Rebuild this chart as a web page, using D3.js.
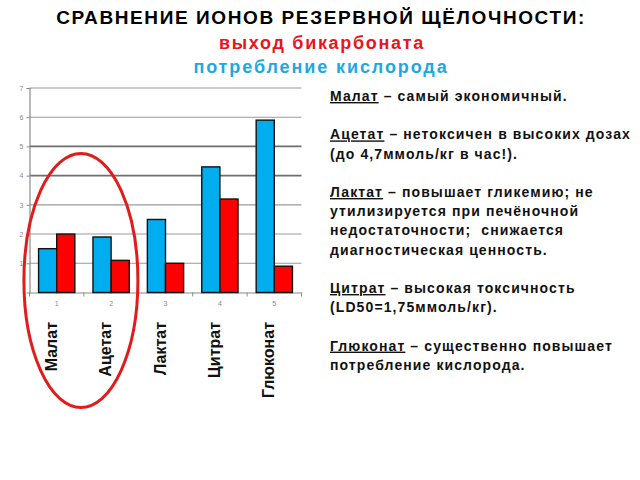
<!DOCTYPE html>
<html><head><meta charset="utf-8">
<script src="https://cdn.jsdelivr.net/npm/d3@7"></script>
<style>
body{margin:0;background:#fff;}
svg{display:block;font-family:"Liberation Sans",Arial,sans-serif;}
</style></head>
<body>
<svg id="c" width="640" height="480"></svg>
<script>
const categories = [1, 2, 3, 4, 5];
const names = ["Малат", "Ацетат", "Лактат", "Цитрат", "Глюконат"];
const oxygen = [1.5, 1.9, 2.5, 4.3, 5.9];      // потребление кислорода (blue)
const bicarbonate = [2.0, 1.1, 1.0, 3.2, 0.9]; // выход бикарбоната (red)
const yTicks = [1, 2, 3, 4, 5, 6, 7];
const titleLines = ["СРАВНЕНИЕ ИОНОВ РЕЗЕРВНОЙ ЩЁЛОЧНОСТИ:", "выход бикарбоната", "потребление кислорода"];
const notes = [
  [["Малат", " – самый экономичный."]],
  [["Ацетат", " – нетоксичен в высоких дозах"], ["", "(до 4,7ммоль/кг в час!)."]],
  [["Лактат", " – повышает гликемию; не"], ["", "утилизируется при печёночной"], ["", "недостаточности;  снижается"], ["", "диагностическая ценность."]],
  [["Цитрат", " – высокая токсичность"], ["", "(LD50=1,75ммоль/кг)."]],
  [["Глюконат", " – существенно повышает"], ["", "потребление кислорода."]]
];

const svg = d3.select("#c");
const BLUE = "#00aeef", RED = "#ff0000";

// titles
svg.append("text").attr("x", 321).attr("y", 24).attr("text-anchor", "middle")
  .attr("font-size", 19).attr("font-weight", "bold").attr("letter-spacing", 1.6).attr("fill", "#000").text(titleLines[0]);
svg.append("text").attr("x", 322).attr("y", 49).attr("text-anchor", "middle")
  .attr("font-size", 18).attr("font-weight", "bold").attr("letter-spacing", 1.7).attr("fill", "#e8151b").text(titleLines[1]);
svg.append("text").attr("x", 321).attr("y", 73).attr("text-anchor", "middle")
  .attr("font-size", 18).attr("font-weight", "bold").attr("letter-spacing", 1.9).attr("fill", "#1ea7e1").text(titleLines[2]);

// scales
const x = d3.scaleBand().domain(categories).range([29.5, 301.5]).paddingInner(0).paddingOuter(0);
const xs = d3.scaleBand().domain(["o", "b"]).range([0, x.bandwidth()]).paddingOuter(0.5).paddingInner(0);
const y = d3.scaleLinear().domain([0, 7]).range([292.5, 88]);

// grid
svg.append("g").selectAll("line").data(yTicks).join("line")
  .attr("x1", 29.5).attr("x2", 301.5)
  .attr("y1", d => y(d)).attr("y2", d => y(d))
  .attr("stroke", d => (d === 4 || d === 5) ? "#6e6e6e" : "#9a9a9a")
  .attr("stroke-width", d => (d === 4 || d === 5) ? 1.8 : 1.1);

// y axis
const ya = svg.append("g").attr("transform", "translate(29.5,0)")
  .call(d3.axisLeft(y).tickValues(yTicks).tickFormat(d3.format("d")).tickSize(3).tickPadding(3));
ya.select(".domain").attr("stroke", "#8a8a8a").attr("stroke-width", 1.2);
ya.selectAll(".tick line").attr("stroke", "#8a8a8a");
ya.selectAll(".tick text").attr("fill", "#8a8a8a").attr("font-size", 7).attr("font-family", "Liberation Sans, Arial");

// x axis
const xa = svg.append("g").attr("transform", `translate(0,${y(0)})`)
  .call(d3.axisBottom(x).tickSize(0).tickPadding(9));
xa.select(".domain").attr("stroke", "#8a8a8a").attr("stroke-width", 1.2);
xa.selectAll(".tick text").attr("fill", "#8a8a8a").attr("font-size", 7).attr("font-family", "Liberation Sans, Arial");
// boundary ticks
svg.append("g").selectAll("line").data(categories.concat([6])).join("line")
  .attr("x1", (d, i) => i < 5 ? x(d) : x(5) + x.bandwidth())
  .attr("x2", (d, i) => i < 5 ? x(d) : x(5) + x.bandwidth())
  .attr("y1", y(0)).attr("y2", y(0) + 4).attr("stroke", "#8a8a8a").attr("stroke-width", 1);

// bars
const bars = svg.append("g");
bars.selectAll("rect.o").data(categories).join("rect").attr("class", "o")
  .attr("x", (d) => x(d) + xs("o")).attr("width", xs.bandwidth())
  .attr("y", (d, i) => y(oxygen[i])).attr("height", (d, i) => y(0) - y(oxygen[i]))
  .attr("fill", BLUE).attr("stroke", "#111").attr("stroke-width", 1.4);
bars.selectAll("rect.b").data(categories).join("rect").attr("class", "b")
  .attr("x", (d) => x(d) + xs("b")).attr("width", xs.bandwidth())
  .attr("y", (d, i) => y(bicarbonate[i])).attr("height", (d, i) => y(0) - y(bicarbonate[i]))
  .attr("fill", RED).attr("stroke", "#111").attr("stroke-width", 1.4);

// category names (rotated)
svg.append("g").selectAll("text").data(categories).join("text")
  .attr("transform", d => `translate(${x(d) + x.bandwidth() / 2},322) rotate(-90)`)
  .attr("text-anchor", "end").attr("font-size", 16).attr("font-weight", "bold").attr("fill", "#111")
  .text((d, i) => names[i]);

// ellipse annotation
svg.append("ellipse")
  .attr("cx", x(2) - 3).attr("cy", y(0) - 12)
  .attr("rx", 57).attr("ry", 127)
  .attr("fill", "none").attr("stroke", "#e21b1b").attr("stroke-width", 3);

// notes
const nt = svg.append("g").attr("font-size", 14).attr("font-weight", "bold").attr("letter-spacing", 1.1).attr("fill", "#111");
let yy = 101;
notes.forEach(par => {
  par.forEach(line => {
    const t = nt.append("text").attr("x", 330).attr("y", yy).attr("xml:space", "preserve");
    if (line[0]) t.append("tspan").attr("text-decoration", "underline").text(line[0]);
    t.append("tspan").text(line[1]);
    yy += 19.2;
  });
  yy += 19.2;
});
</script>
</body></html>
